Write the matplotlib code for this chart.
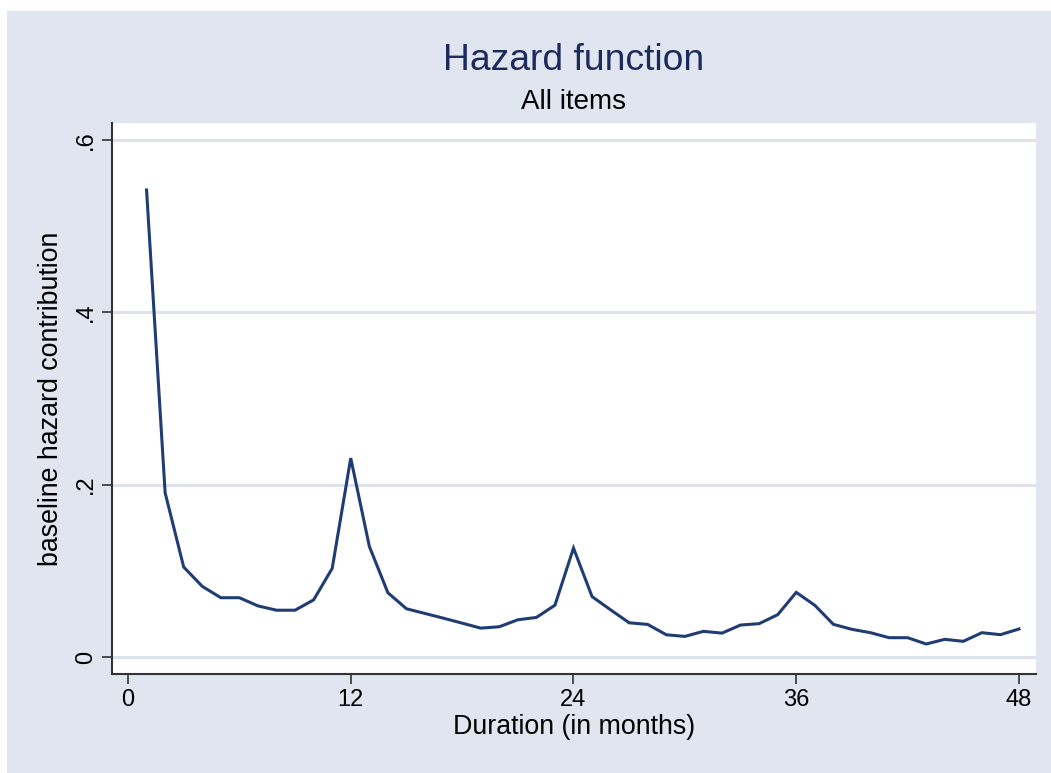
import matplotlib
matplotlib.use("Agg")
import matplotlib.pyplot as plt
from matplotlib.patches import Rectangle

months = list(range(1, 49))
hazard = [0.542, 0.1906, 0.1044, 0.0820, 0.0688, 0.0688, 0.0593, 0.0543, 0.0543, 0.0663,
          0.1028, 0.2308, 0.1285, 0.0746, 0.0560, 0.0505, 0.0450, 0.0393, 0.0335, 0.0351,
          0.0432, 0.0459, 0.0601, 0.1264, 0.0701, 0.0547, 0.0397, 0.0378, 0.0258, 0.0239,
          0.0298, 0.0277, 0.0371, 0.0387, 0.0491, 0.0750, 0.0600, 0.0379, 0.0321, 0.0282,
          0.0224, 0.0224, 0.0151, 0.0205, 0.0182, 0.0282, 0.0259, 0.0325]
xticks = [0, 12, 24, 36, 48]
xticklabels = ["0", "12", "24", "36", "48"]
yticks = [0, 0.2, 0.4, 0.6]
yticklabels = ["0", ".2", ".4", ".6"]

W, H = 1051, 773
plt.rcParams['font.family'] = ['Liberation Sans', 'DejaVu Sans']
fig = plt.figure(figsize=(W / 100, H / 100), dpi=100)
fig.patch.set_facecolor("white")
bg = "#E0E5EF"
fig.add_artist(Rectangle((7 / W, 0), 1 - 7 / W, 1 - 11 / H, transform=fig.transFigure,
                         facecolor=bg, edgecolor="none", zorder=0))

left, right, top, bottom = 112, 1036, 123, 674
ax = fig.add_axes([left / W, 1 - bottom / H, (right - left) / W, (bottom - top) / H])
ax.set_facecolor("white")

px_per_x = (1019 - 128) / 48
px_per_y = (657 - 140) / 0.6
ax.set_xlim(0 - (128 - left) / px_per_x, 48 + (right - 1019) / px_per_x)
ax.set_ylim(0 - (bottom - 657) / px_per_y, 0.6 + (140 - top) / px_per_y)

for y in yticks:
    ax.axhline(y, color="#DDE2ED", lw=2.2, zorder=1)

ax.plot(months, hazard, color="#1F3D74", lw=2.2, zorder=3, solid_joinstyle="miter")

ax.set_xticks(xticks)
ax.set_xticklabels(xticklabels, fontsize=17)
ax.set_yticks(yticks)
ax.set_yticklabels(yticklabels, fontsize=17, rotation=90, va="center")
ax.tick_params(axis="both", direction="out", length=7, width=1.2, color="#333333",
               labelcolor="black", pad=4)

for s in ["top", "right"]:
    ax.spines[s].set_visible(False)
for s in ["left", "bottom"]:
    ax.spines[s].set_color("#333333")
    ax.spines[s].set_linewidth(1.5)

ax.set_xlabel("Duration (in months)", fontsize=19.3, labelpad=2)
ax.set_ylabel("baseline hazard contribution", fontsize=19.3, labelpad=8)

fig.text((443 + 704) / 2 / W, 1 - 60 / H, "Hazard function", fontsize=26.8,
         color="#1C2B5C", ha="center", va="center")
fig.text((518 + 629) / 2 / W, 1 - 102 / H, "All items", fontsize=20,
         color="black", ha="center", va="center")

fig.savefig("out.png", dpi=100, facecolor=fig.get_facecolor())
